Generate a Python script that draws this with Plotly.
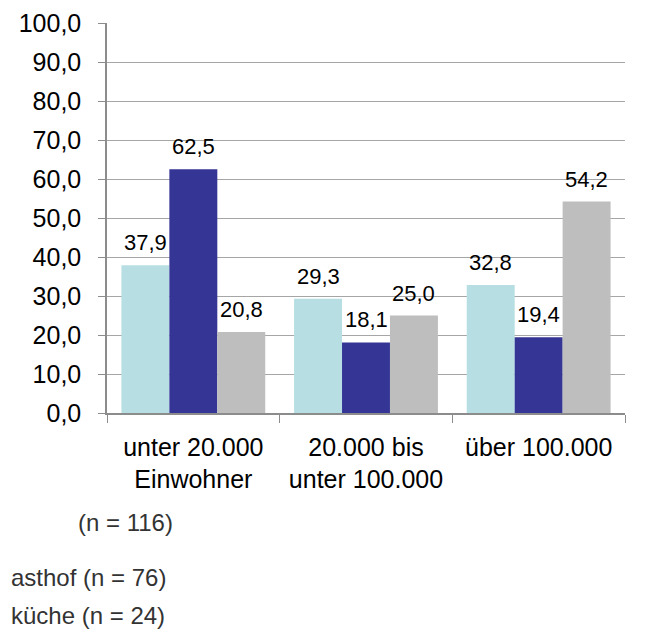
import plotly.graph_objects as go

categories = ["unter 20.000<br>Einwohner", "20.000 bis<br>unter 100.000", "über 100.000"]
series_names = ["Einzelunternehmen (n = 116)", "Gasthof (n = 76)", "Großküche (n = 24)"]
values_a = [37.9, 29.3, 32.8]
values_b = [62.5, 18.1, 19.4]
values_c = [20.8, 25.0, 54.2]
legend_texts = ["(n = 116)", "asthof (n = 76)", "küche (n = 24)"]
y_ticks = [0, 10, 20, 30, 40, 50, 60, 70, 80, 90, 100]

colors = ["#B7DFE3", "#353596", "#BEBEBE"]
font = "Liberation Sans, Arial, sans-serif"

# page body has an 8px margin
W, H = 661, 625
ML, MR, MT, MB = 99, 44, 15, 220
BARGAP = 0.167
pw = W - ML - MR
ph = H - MT - MB
bar_px = pw / len(categories) * (1 - BARGAP) / 3

fig = go.Figure()
all_vals = [values_a, values_b, values_c]
for name, vals, col in zip(series_names, all_vals, colors):
    fig.add_trace(go.Bar(
        x=categories, y=vals, name=name, marker_color=col,
        marker_line_width=0,
    ))

# value labels above bars
for i, vals in enumerate(all_vals):
    for cat, v in zip(categories, vals):
        fig.add_annotation(
            x=cat, y=v, xref="x", yref="y",
            text=f"{v:.1f}".replace(".", ","), showarrow=False,
            xanchor="center", yanchor="bottom",
            xshift=(i - 1) * bar_px, yshift=8,
            font=dict(family=font, size=22, color="#000000"),
        )

fig.update_layout(
    width=W, height=H,
    margin=dict(l=ML, r=MR, t=MT, b=MB, autoexpand=False),
    paper_bgcolor="white", plot_bgcolor="white",
    barmode="group", bargap=BARGAP, bargroupgap=0,
    showlegend=False,
    separators=",.",
    font=dict(family=font, size=25, color="#000000"),
)
fig.update_yaxes(
    range=[0, 100], tickvals=y_ticks, tickformat=".1f",
    showgrid=True, gridcolor="#A6A6A6", gridwidth=1,
    showline=True, linecolor="#8C8C8C", linewidth=1.5,
    ticks="outside", ticklen=7, tickcolor="#8C8C8C",
    ticklabelstandoff=12,
    tickfont=dict(family=font, size=25, color="#000000"),
    zeroline=False,
)
fig.update_xaxes(
    showline=True, linecolor="#8C8C8C", linewidth=1.5,
    ticks="outside", tickson="boundaries", ticklen=8, tickcolor="#8C8C8C",
    ticklabelstandoff=11,
    tickfont=dict(family=font, size=25, color="#000000"),
)

legend_pos = [(125, 522), (9, 577), (9, 615)]
anchors = ["center", "left", "left"]
for txt, (px, py), anc in zip(legend_texts, legend_pos, anchors):
    fig.add_annotation(
        xref="paper", yref="paper",
        x=(px - 8 - ML) / pw, y=1 - (py - 8 - MT) / ph,
        text=txt, showarrow=False, xanchor=anc, yanchor="middle",
        font=dict(family=font, size=24, color="#333333"),
    )

fig.write_html("out.html")
